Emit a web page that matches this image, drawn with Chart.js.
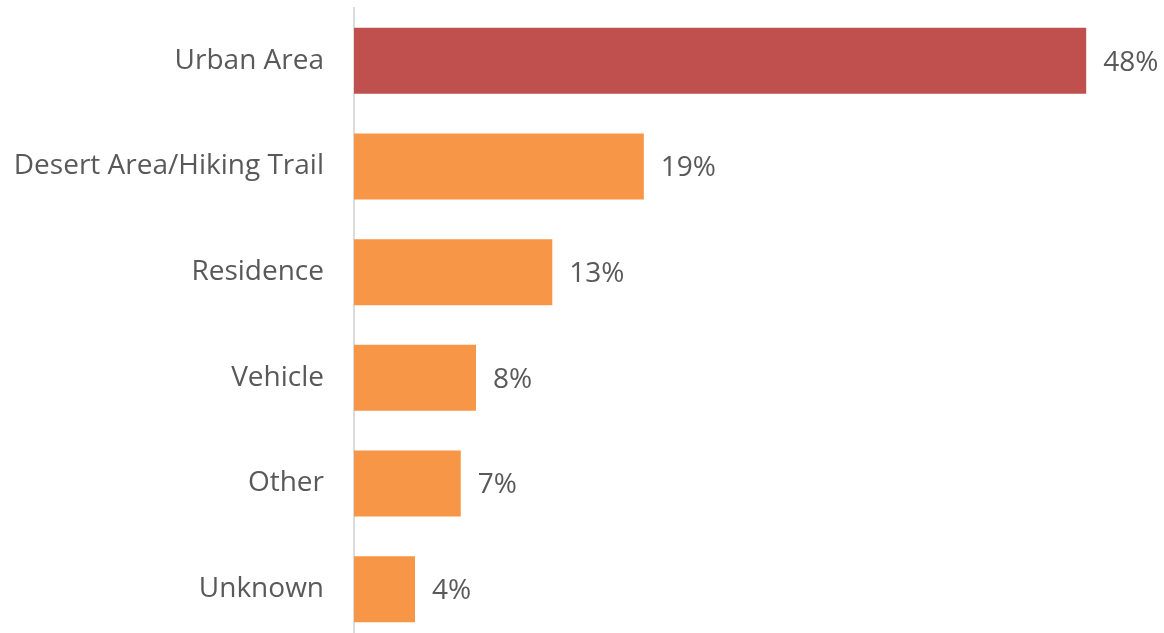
<!DOCTYPE html>
<html lang="en">
<head>
  <meta charset="UTF-8">
  <title>Location</title>
  <script src="https://cdn.jsdelivr.net/npm/chart.js"></script>
  <style>
    html, body {
      margin: 0;
      padding: 0;
      overflow: hidden;
      background: #ffffff;
    }
    canvas {
      display: block;
    }
  </style>
</head>
<body>
  <canvas id="locationChart" width="1164" height="642"></canvas>

  <script>
    const categories = ['Urban Area', 'Desert Area/Hiking Trail', 'Residence', 'Vehicle', 'Other', 'Unknown'];
    const shares = [48, 19, 13, 8, 7, 4];
    const barColors = ['#C0504D', '#F79646', '#F79646', '#F79646', '#F79646', '#F79646'];

    const textColor = '#595959';
    const fontFamily = '"Open Sans", "Liberation Sans", sans-serif';
    const fontSize = 28;

    // Writes the percentage just past the end of each bar
    const valueLabels = {
      id: 'valueLabels',
      afterDatasetsDraw(chart) {
        const ctx = chart.ctx;
        const meta = chart.getDatasetMeta(0);
        ctx.save();
        ctx.font = fontSize + 'px ' + fontFamily;
        ctx.fillStyle = textColor;
        ctx.textAlign = 'left';
        ctx.textBaseline = 'middle';
        meta.data.forEach((bar, i) => {
          ctx.fillText(shares[i] + '%', bar.x + 17, bar.y + 2);
        });
        ctx.restore();
      }
    };

    const ctx = document.getElementById('locationChart').getContext('2d');
    new Chart(ctx, {
      type: 'bar',
      data: {
        labels: categories,
        datasets: [{
          data: shares,
          backgroundColor: barColors,
          borderWidth: 0,
          barPercentage: 0.625,
          categoryPercentage: 1
        }]
      },
      options: {
        indexAxis: 'y',
        responsive: false,
        animation: false,
        layout: {
          padding: { top: 8, right: 0, bottom: 0, left: 0 }
        },
        plugins: {
          legend: { display: false },
          tooltip: { enabled: false }
        },
        scales: {
          x: {
            display: false,
            min: 0,
            max: 53.1
          },
          y: {
            afterFit(scale) {
              // fixed label column, no extra room above/below the bars
              scale.width = 354;
              scale.paddingTop = 0;
              scale.paddingBottom = 0;
            },
            grid: { display: false },
            border: { display: true, color: '#dcdcdc', width: 2 },
            ticks: {
              color: textColor,
              padding: 22,
              font: { family: fontFamily, size: fontSize }
            }
          }
        }
      },
      plugins: [valueLabels]
    });
  </script>
</body>
</html>
